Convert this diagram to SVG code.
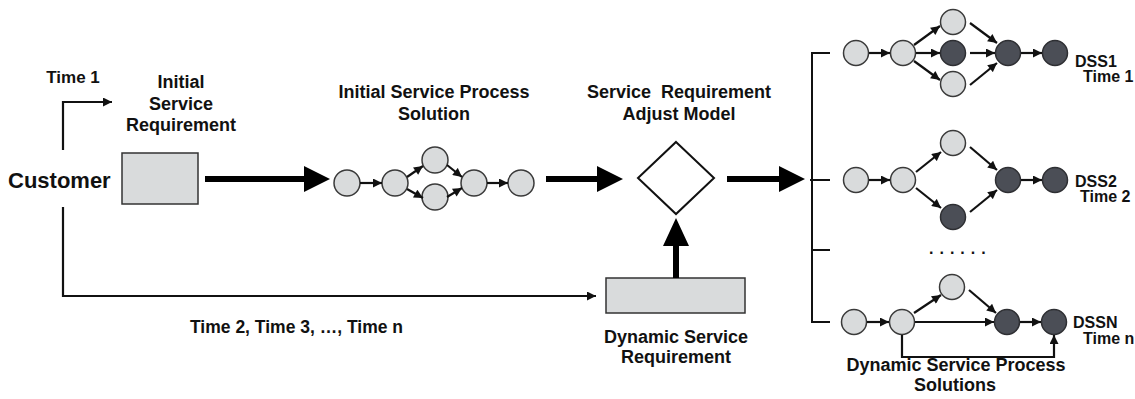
<svg xmlns="http://www.w3.org/2000/svg" width="1135" height="399" viewBox="0 0 1135 399">
<style>
text{font-family:"Liberation Sans",Arial,Helvetica,sans-serif;font-weight:bold;fill:#111}
.lbl{font-size:18px}
.sm{font-size:16px}
.c{text-anchor:middle}
.lt{fill:#d9dbdc;stroke:#3a3a3a;stroke-width:1.5}
.dk{fill:#4b4e56;stroke:#2e2f33;stroke-width:1.5}
.box{fill:#d9dbdc;stroke:#333;stroke-width:1.5}
.ln{stroke:#111;stroke-width:2;fill:none}
.ar{stroke:#111;stroke-width:2.2;fill:none;marker-end:url(#ah)}
.thick{fill:#000}
</style>
<defs>
<marker id="ah" viewBox="0 0 10 10" refX="10" refY="5" markerWidth="10" markerHeight="9" markerUnits="userSpaceOnUse" orient="auto">
<path d="M0,0 L10,5 L0,10 z" fill="#111"/>
</marker>
</defs>
<rect width="1135" height="399" fill="#fff"/>

<g id="customer"><text x="8" y="188" style="font-size:22px">Customer</text></g>
<g id="time1-label"><text class="lbl" x="73" y="83" text-anchor="middle" style="font-size:17px">Time 1</text></g>

<g id="initial-req">
<rect class="box" x="122" y="153" width="76" height="51"/>
<text class="lbl c" x="181" y="88">Initial</text>
<text class="lbl c" x="181" y="110">Service</text>
<text class="lbl c" x="181" y="131">Requirement</text>
</g>

<g id="initial-solution">
<text class="lbl c" x="434" y="98">Initial Service Process</text>
<text class="lbl c" x="434" y="120">Solution</text>
<circle class="lt" cx="347" cy="183" r="13"/>
<circle class="lt" cx="395" cy="183" r="13"/>
<circle class="lt" cx="435" cy="160" r="13"/>
<circle class="lt" cx="435" cy="197" r="13"/>
<circle class="lt" cx="474" cy="183" r="13"/>
<circle class="lt" cx="521" cy="183" r="13"/>
<line class="ar" x1="360" y1="183" x2="382" y2="183"/>
<line class="ar" x1="407" y1="177" x2="423" y2="166"/>
<line class="ar" x1="407" y1="189" x2="423" y2="198"/>
<line class="ar" x1="447" y1="165" x2="462" y2="177"/>
<line class="ar" x1="447" y1="197" x2="462" y2="188"/>
<line class="ar" x1="487" y1="183" x2="508" y2="183"/>
</g>

<g id="adjust-model">
<polygon points="676,142 714,178 676,214 638,178" fill="#fff" stroke="#111" stroke-width="2"/>
<text class="lbl c" x="679" y="98" xml:space="preserve">Service  Requirement</text>
<text class="lbl c" x="679" y="120">Adjust Model</text>
</g>

<g id="dynamic-req">
<rect class="box" x="606" y="278" width="139" height="35"/>
<text class="lbl c" x="676" y="343">Dynamic Service</text>
<text class="lbl c" x="676" y="363">Requirement</text>
</g>

<g id="time-n-label"><text class="lbl" x="190" y="333" style="font-size:17.5px">Time 2, Time 3, …, Time n</text></g>

<g id="dss1">
<circle class="lt" cx="856" cy="53" r="12.5"/>
<circle class="lt" cx="903" cy="53" r="12.5"/>
<circle class="lt" cx="953" cy="22" r="12.5"/>
<circle class="dk" cx="953" cy="53" r="12.5"/>
<circle class="lt" cx="953" cy="84" r="12.5"/>
<circle class="dk" cx="1008" cy="53" r="12.5"/>
<circle class="dk" cx="1055" cy="53" r="12.5"/>
<line class="ar" x1="869" y1="53" x2="890" y2="53"/>
<line class="ar" x1="914" y1="45" x2="940" y2="26"/>
<line class="ar" x1="916" y1="53" x2="940" y2="53"/>
<line class="ar" x1="914" y1="61" x2="940" y2="80"/>
<line class="ar" x1="970" y1="23" x2="997" y2="43"/>
<line class="ar" x1="970" y1="53" x2="995" y2="53"/>
<line class="ar" x1="970" y1="85" x2="997" y2="63"/>
<line class="ar" x1="1021" y1="53" x2="1042" y2="53"/>
<text class="sm" x="1075" y="67">DSS1</text>
<text class="sm" x="1083" y="82">Time 1</text>
</g>

<g id="dss2">
<circle class="lt" cx="856" cy="180" r="12.5"/>
<circle class="lt" cx="903" cy="180" r="12.5"/>
<circle class="lt" cx="953" cy="143" r="12.5"/>
<circle class="dk" cx="953" cy="217" r="12.5"/>
<circle class="dk" cx="1008" cy="180" r="12.5"/>
<circle class="dk" cx="1055" cy="180" r="12.5"/>
<line class="ar" x1="869" y1="180" x2="890" y2="180"/>
<line class="ar" x1="916" y1="172" x2="941" y2="152"/>
<line class="ar" x1="916" y1="188" x2="941" y2="208"/>
<line class="ar" x1="970" y1="147" x2="997" y2="170"/>
<line class="ar" x1="970" y1="212" x2="997" y2="190"/>
<line class="ar" x1="1021" y1="180" x2="1042" y2="180"/>
<text class="sm" x="1075" y="187">DSS2</text>
<text class="sm" x="1080" y="202">Time 2</text>
</g>

<g id="ellipsis"><text class="sm" x="929" y="254" style="letter-spacing:6px">......</text></g>

<g id="dssn">
<circle class="lt" cx="854" cy="322" r="12.5"/>
<circle class="lt" cx="902" cy="322" r="12.5"/>
<circle class="lt" cx="952" cy="287" r="12.5"/>
<circle class="dk" cx="1007" cy="322" r="12.5"/>
<circle class="dk" cx="1054" cy="322" r="12.5"/>
<line class="ar" x1="867" y1="322" x2="889" y2="322"/>
<line class="ar" x1="914" y1="313" x2="941" y2="295"/>
<line class="ar" x1="915" y1="322" x2="994" y2="322"/>
<line class="ar" x1="969" y1="290" x2="996" y2="313"/>
<line class="ar" x1="1020" y1="322" x2="1041" y2="322"/>
<polyline class="ar" points="902,335 902,357 1054,357 1054,335"/>
<text class="sm" x="1073" y="328">DSSN</text>
<text class="sm" x="1083" y="344">Time n</text>
</g>

<g id="dynamic-solutions">
<text class="lbl c" x="956" y="371">Dynamic Service Process</text>
<text class="lbl c" x="955" y="391">Solutions</text>
</g>

<g id="connectors">
<polyline class="ar" points="63,150 63,102 112,102"/>
<polyline class="ar" points="63,207 63,296 596,296"/>
<polygon class="thick" points="205,176 304,176 304,166 330,179 304,192 304,182 205,182"/>
<polygon class="thick" points="546,176 597,176 597,166 623,179 597,192 597,182 546,182"/>
<polygon class="thick" points="727,176 779,176 779,166 805,179 779,192 779,182 727,182"/>
<polygon class="thick" points="673,278 673,246 663,246 676,218 689,246 679,246 679,278"/>
<line class="ln" x1="812" y1="53" x2="812" y2="322"/>
<line class="ln" x1="811" y1="53" x2="830" y2="53"/>
<line class="ln" x1="810" y1="180" x2="830" y2="180"/>
<line class="ln" x1="811" y1="250" x2="830" y2="250"/>
<line class="ln" x1="811" y1="322" x2="830" y2="322"/>
</g>
</svg>
